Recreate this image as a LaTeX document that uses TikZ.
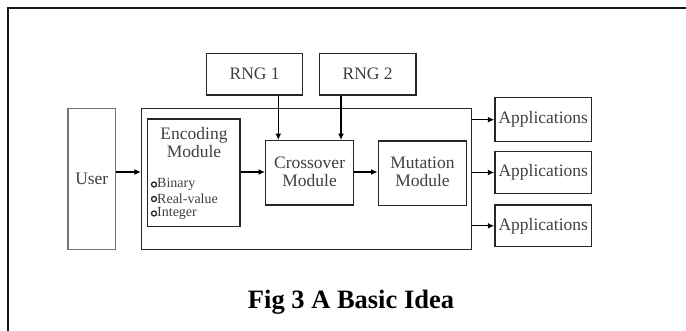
\documentclass[tikz,border=0pt]{standalone}
\usepackage{fontspec}
\setmainfont{Liberation Serif}
\usetikzlibrary{arrows.meta}
\begin{document}
\begin{tikzpicture}[x=1pt,y=-1pt,
  box/.style={draw=black!85,line width=1.4pt,rectangle,inner sep=0pt,text=black!75,
    font=\fontsize{17.5}{18}\selectfont,align=center},
  arr/.style={draw=black,line width=1.4pt,-{Latex[length=6.5pt,width=6pt]}},
  bul/.style={circle,draw=black!85,line width=1.3pt,minimum size=5pt,inner sep=0pt},
  itm/.style={anchor=west,inner sep=0pt,text=black!75,font=\fontsize{14}{14}\selectfont}]
\useasboundingbox (0,0) rectangle (686,331);
% outer frame
\draw[line width=2pt,black!90] (8,340) -- (8,8) -- (690,8);
% boxes
\node[box,minimum width=96pt,minimum height=41.7pt] (rng1) at (254.7,74.2) {RNG 1};
\node[box,minimum width=96.5pt,minimum height=41.7pt] (rng2) at (367.7,74.2) {RNG 2};
\node[box,draw=black!55,minimum width=47.5pt,minimum height=141pt] (user) at (91.8,178.8) {User};
\node[box,minimum width=330pt,minimum height=141pt] (main) at (306.6,178.8) {};
\node[box,minimum width=92.7pt,minimum height=107.7pt] (enc) at (193.7,172.8) {};
\node[box,draw=none,anchor=north] (enctxt) at (194,126.5) {Encoding\\Module};
\node[box,minimum width=87.8pt,minimum height=64.3pt] (cross) at (309.6,172.9) {};
\node[box,draw=none] (crosstxt) at (309.6,172) {Crossover\\Module};
\node[box,minimum width=88.4pt,minimum height=64.7pt] (mut) at (422.5,173.3) {};
\node[box,draw=none] (muttxt) at (422.5,172) {Mutation\\Module};
\node[box,minimum width=96.7pt,minimum height=44pt] (app1) at (543.3,119.7) {Applications};
\node[box,minimum width=96.7pt,minimum height=41.6pt] (app2) at (543.3,172.5) {Applications};
\node[box,minimum width=96.7pt,minimum height=41.7pt] (app3) at (543.3,225.8) {Applications};
% list in encoding module
\node[bul] (b1) at (154,184.5) {};
\node[bul] (b2) at (154,199) {};
\node[bul] (b3) at (154,213.5) {};
\node[itm] (t1) at (157,184.5) {Binary};
\node[itm] (t2) at (157,199) {Real-value};
\node[itm] (t3) at (157,213.5) {Integer};
% caption
\node[font=\bfseries\fontsize{26.5}{28}\selectfont,inner sep=0pt] (cap) at (351,302) {Fig 3 A Basic Idea};
% connectors
\coordinate (r1x) at (278.3,0);
\coordinate (r2x) at (341,0);
\coordinate (hy) at (0,172);
\draw[arr] (user.east |- hy) -- (main.west |- hy);
\draw[arr] (enc.east |- hy) -- (cross.west |- hy);
\draw[arr] (cross.east |- hy) -- (mut.west |- hy);
\draw[arr] (rng1.south -| r1x) -- (cross.north -| r1x);
\draw[arr] (rng2.south -| r2x) -- (cross.north -| r2x);
\draw[arr] (main.east |- app1.west) -- (app1.west);
\draw[arr] (main.east |- app2.west) -- (app2.west);
\draw[arr] (main.east |- app3.west) -- (app3.west);
\end{tikzpicture}
\end{document}
